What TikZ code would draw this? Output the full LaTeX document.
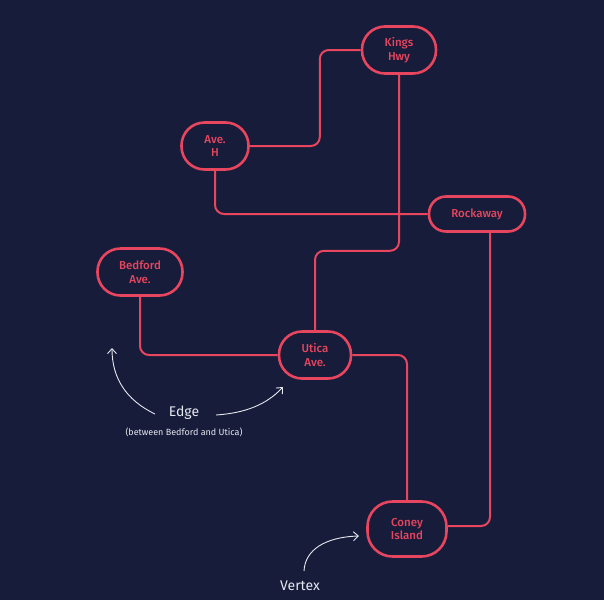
\documentclass[tikz,border=0pt]{standalone}
\usepackage{fontspec}
\setmainfont{Fira Sans}
\newfontfamily\medfont{Fira Sans Medium}
\usetikzlibrary{arrows.meta,positioning}
\definecolor{navy}{HTML}{161C3A}
\definecolor{rose}{HTML}{E8455E}
\definecolor{note}{HTML}{E6E8F0}

\begin{document}
\begin{tikzpicture}[
  x=1pt, y=-1pt,
  stop/.style={draw=rose, line width=2.6pt, rounded corners=23pt,
    text=rose, align=center, minimum height=47pt,
    font=\fontsize{11.5}{13.5}\selectfont\medfont, inner sep=0pt},
  edge/.style={draw=rose, line width=2pt, rounded corners=9pt},
  hint/.style={draw=note, line width=0.9pt,
    -{Straight Barb[length=5pt,width=9pt]}},
  label/.style={text=note}
]
\fill[navy] (0,0) rectangle (604,600);
\useasboundingbox (0,0) rectangle (604,600);

\node[stop, minimum width=74pt] (kings) at (399,50) {Kings\\Hwy};
\node[stop, minimum width=67pt] (aveh) at (215,146) {Ave.\\H};
\node[stop, minimum width=85pt] (bedford) at (140,272) {Bedford\\Ave.};
\node[stop, minimum width=72pt] (utica) at (315,355) {Utica\\Ave.};
\node[stop, minimum width=96pt, minimum height=35pt, rounded corners=17pt] (rockaway) at (477,214) {Rockaway};
\node[stop, minimum width=79pt, minimum height=55pt, rounded corners=25pt] (coney) at (407,529) {Coney\\Island};

\draw[edge] (aveh.east) -- ++(70,0) |- (kings.west);
\draw[edge] (aveh.south) |- (rockaway.west);
\draw[edge] (kings.south) -- ++(0,176) -| (utica.north);
\draw[edge] (bedford.south) |- (utica.west);
\draw[edge] (utica.east) -| (coney.north);
\draw[edge] ([xshift=13pt]rockaway.south) |- ([yshift=3pt]coney.east);

% notes
\node[label, font=\fontsize{14}{16}\selectfont] (edgetxt) at (184,413) {Edge};
\node[label, font=\fontsize{9}{11}\selectfont] (between) at (184,432) {(between Bedford and Utica)};
\node[label, font=\fontsize{14}{16}\selectfont] (vertex) at (300,586) {Vertex};
\coordinate (edgetip) at (112,348);
\coordinate (uticatip) at (283,387);
\coordinate (coneytip) at (359,536);

\draw[hint] (155,414) .. controls (126,400) and (112,378) .. (edgetip);
\draw[hint] (216,415) .. controls (245,413) and (266,405) .. (uticatip);
\draw[hint] (304,571) .. controls (305,550) and (325,537) .. (coneytip);
\end{tikzpicture}
\end{document}
